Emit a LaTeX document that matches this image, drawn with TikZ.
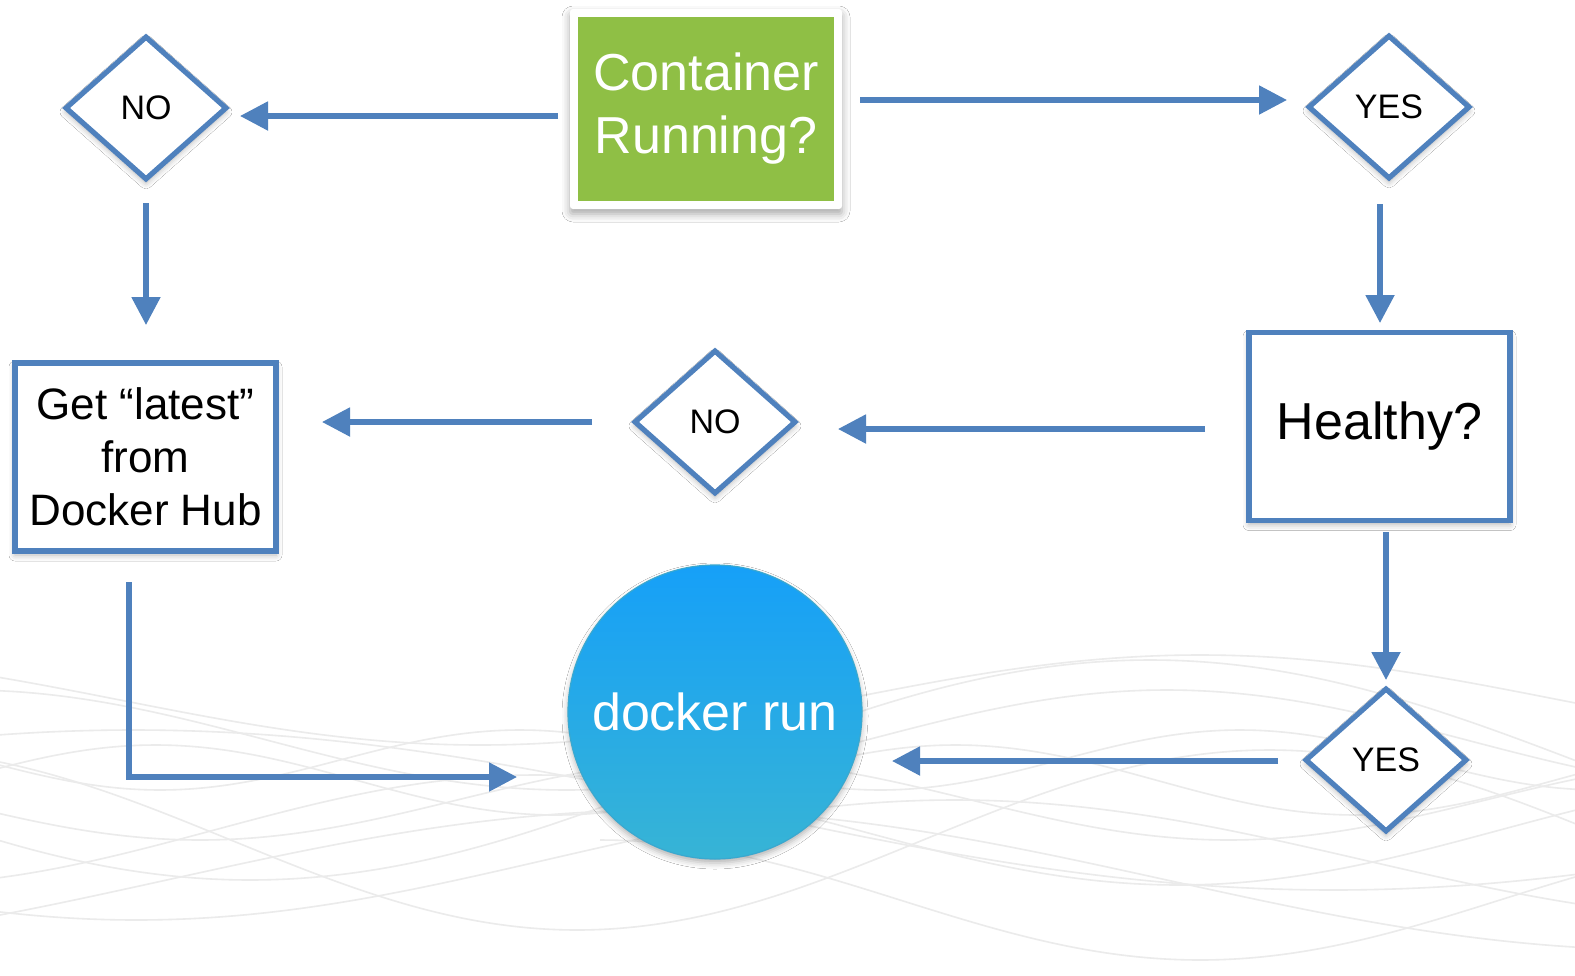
\documentclass[tikz,border=0pt]{standalone}
\usepackage{fontspec}
\setmainfont{Liberation Sans}
\usetikzlibrary{shapes.geometric,arrows.meta,calc,shadows,shadows.blur}
\definecolor{bblue}{HTML}{4F81BD}
\definecolor{bgreen}{HTML}{8FBF45}
\definecolor{dtop}{HTML}{16A0F8}
\definecolor{dbot}{HTML}{37B4D5}
\definecolor{dedge}{HTML}{3AA8CF}
\tikzset{
  shad/.style={blur shadow={shadow xshift=0pt,shadow yshift=-2pt,shadow blur radius=3pt,shadow opacity=30}},
  dia/.style={diamond,draw=bblue,line width=2.6pt,fill=white,minimum width=81pt,minimum height=72pt,inner sep=0pt,shad,font=\fontsize{17}{20}\selectfont},
  boxx/.style={rectangle,draw=bblue,line width=2.8pt,fill=white,minimum width=130.5pt,minimum height=94pt,inner sep=0pt,shad,align=center},
  arr/.style={draw=bblue,line width=2.6pt,line join=miter,-{Triangle[length=14pt,width=14pt]}},
  wave/.style={black!8,line width=0.8pt,smooth}
}
\begin{document}
\begin{tikzpicture}[x=0.5pt,y=-0.5pt]
\fill[white] (0,0) rectangle (1575,975);
\useasboundingbox (0,0) rectangle (1575,975);
% background waves
\draw[wave] plot[domain=0:1575,samples=90] (\x,{800+40*sin(\x*0.35+20)});
\draw[wave] plot[domain=0:1575,samples=90] (\x,{830+55*sin(\x*0.28+120)});
\draw[wave] plot[domain=0:1575,samples=90] (\x,{780+35*sin(\x*0.45+200)});
\draw[wave] plot[domain=0:1575,samples=90] (\x,{860+60*sin(\x*0.22+60)});
\draw[wave] plot[domain=0:1575,samples=90] (\x,{740+50*sin(\x*0.3+280)});
\draw[wave] plot[domain=0:1575,samples=90] (\x,{880+70*sin(\x*0.18+150)});
\draw[wave] plot[domain=0:1575,samples=90] (\x,{700+45*sin(\x*0.25+330)});
\draw[wave] plot[domain=0:1575,samples=90] (\x,{810+80*sin(\x*0.15+250)});
\draw[wave] plot[domain=600:1575,samples=70] (\x,{900+60*sin(\x*0.3+90)});
\draw[wave] plot[domain=0:1575,samples=90] (\x,{760+30*sin(\x*0.5+10)});
\draw[wave] plot[domain=0:1575,samples=90] (\x,{770+110*sin(\x*0.2+40)});
\draw[wave] plot[domain=0:1575,samples=90] (\x,{840+90*sin(\x*0.26+300)});
% nodes
\node[rectangle,fill=white,minimum width=136pt,minimum height=100pt,inner sep=0pt,rounded corners=1.5pt,
  blur shadow={shadow xshift=0pt,shadow yshift=-2.5pt,shadow blur radius=4pt,shadow opacity=35}] (runf) at (706,109) {};
\node[rectangle,fill=bgreen,minimum width=128pt,minimum height=92pt,inner sep=0pt,align=center,text=white,
  font=\fontsize{26}{31.5}\selectfont] (run) at (runf) {Container\\Running?};
\node[dia] (no1) at (146,108) {NO};
\node[dia] (yes1) at (1389,107) {YES};
\node[dia] (no2) at (715,422) {NO};
\node[dia] (yes2) at (1386,760) {YES};
\node[boxx,font=\fontsize{22}{26.5}\selectfont] (get) at (145.5,457) {Get “latest”\\from\\Docker Hub};
\node[boxx,font=\fontsize{26}{30}\selectfont] (healthy) at (1379.5,426.5) {Healthy?};
\node[circle,minimum size=147pt,inner sep=0pt,top color=dtop,bottom color=dbot,draw=dedge,line width=0.6pt,text=white,
  font=\fontsize{26}{30}\selectfont,shad] (dock) at (715,712) {docker run};
% connectors
\draw[arr] ($(run)+(-148,7)$) -- ($(no1)+(94,8)$);
\draw[arr] ($(run)+(154,-9)$) -- ($(yes1)+(-102,-7)$);
\draw[arr] ($(no1)+(0,95)$) -- ($(get)+(0.5,-132)$);
\draw[arr] ($(yes1)+(-9,97)$) -- ($(healthy)+(0.5,-103.5)$);
\draw[arr] ($(healthy)+(-174.5,2.5)$) -- ($(no2)+(123,7)$);
\draw[arr] ($(no2)+(-123,0)$) -- ($(get)+(176.5,-35)$);
\draw[arr] ($(healthy)+(6.5,105.5)$) -- ($(yes2)+(0,-80)$);
\draw[arr] ($(yes2)+(-108,1)$) -- ($(dock)+(177,49)$);
\draw[arr] ($(get)+(-16.5,125)$) |- ($(dock)+(-198,65)$);
\end{tikzpicture}
\end{document}
